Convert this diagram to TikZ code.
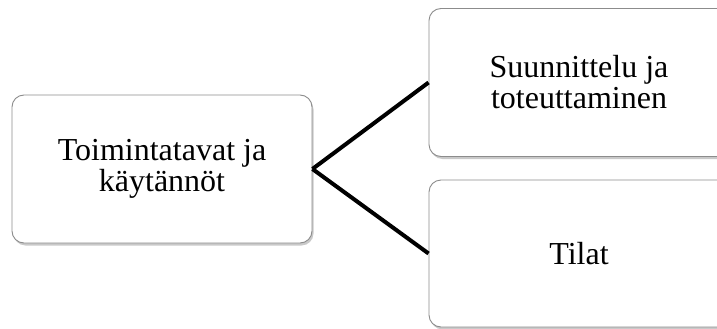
\documentclass[tikz,border=0pt]{standalone}
\usepackage{fontspec}
\setmainfont{Liberation Serif}
\usetikzlibrary{shadows}
\begin{document}
\begin{tikzpicture}[x=1pt,y=-1pt,
  box/.style={draw=black!45, line width=0.9pt, fill=white, rounded corners=12pt,
    minimum width=300pt, minimum height=148pt, align=center,
    font=\fontsize{32}{31}\selectfont,
    drop shadow={shadow xshift=1.5pt, shadow yshift=-2.5pt, opacity=0.35, fill=black!60}},
  conn/.style={line width=4pt, black}]
\clip (0,0) rectangle (717,329);
\fill[white] (0,0) rectangle (717,329);
\node[box] (L) at (162,169) {Toimintatavat ja\\käytännöt};
\node[box] (A) at (579,82.5) {Suunnittelu ja\\toteuttaminen};
\node[box, minimum height=147pt] (B) at (579,253.5) {Tilat};
\draw[conn] (L.east) -- (A.west);
\draw[conn] (L.east) -- (B.west);
\end{tikzpicture}
\end{document}
